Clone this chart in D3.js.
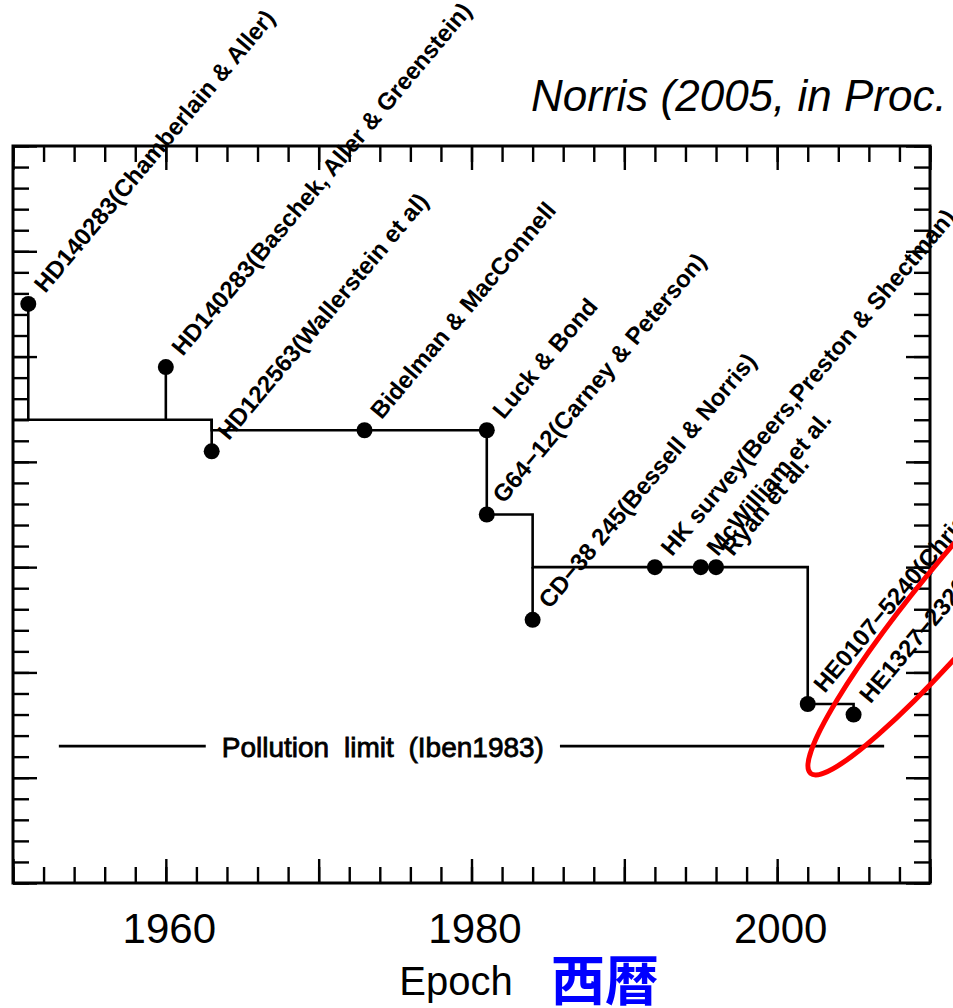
<!DOCTYPE html>
<html>
<head>
<meta charset="utf-8">
<script src="https://cdn.jsdelivr.net/npm/d3@7"></script>
<style>
  html, body { margin: 0; padding: 0; background: #fff; overflow: hidden; }
  svg { display: block; }
  text { font-family: "Liberation Sans", Arial, sans-serif; fill: #000; }
</style>
</head>
<body>
<svg id="chart" width="953" height="1008"></svg>
<script>
// Record-holding metal-poor stars: discovery epoch and [Fe/H]
const starLabels = [
  "HD140283(Chamberlain & Aller)",
  "HD140283(Baschek, Aller & Greenstein)",
  "HD122563(Wallerstein et al)",
  "Bidelman & MacConnell",
  "Luck & Bond",
  "G64\u221212(Carney & Peterson)",
  "CD\u221238 245(Bessell & Norris)",
  "HK survey(Beers,Preston & Shectman)",
  "McWilliam et al.",
  "Ryan et al.",
  "HE0107\u22125240(Christlieb et al)",
  "HE1327\u22122326(Frebel et al)"
];
const starYears = [1951, 1960, 1963, 1973, 1981, 1981, 1984, 1992, 1995, 1996, 2002, 2005];
const starFeH   = [-1.5, -2.1, -2.9, -2.7, -2.7, -3.5, -4.5, -4.0, -4.0, -4.0, -5.3, -5.4];

// Running lowest-metallicity envelope (step line)
const stepYears = [1950, 1963, 1963, 1981, 1981, 1984, 1984, 2002, 2002, 2005, 2005];
const stepFeH   = [-2.6, -2.6, -2.7, -2.7, -3.5, -3.5, -4.0, -4.0, -5.3, -5.3, -5.4];

// Vertical connectors between individual measurements and the envelope
const dropYears = [1951, 1960, 1963, 1984];
const dropFrom  = [-1.5, -2.1, -2.6, -4.0];
const dropTo    = [-2.6, -2.6, -2.9, -4.5];

// Pollution limit (Iben 1983)
const pollutionFeH = -5.7;
const pollutionYears = [1953, 2007];
const pollutionLabel = "Pollution limit (Iben1983)";
const pollutionLabelYear = 1974.2;

// Axis tick values
const xMinorTicks = d3.range(1950, 2010.1, 2);
const xMajorTicks = d3.range(1950, 2010.1, 10);
const xTickLabels = [1960, 1980, 2000];
const yMinorTicks = d3.range(0, -7.01, -0.2).map(v => +v.toFixed(1));
const yMajorTicks = d3.range(0, -7.01, -1);

const svg = d3.select("#chart");
const L = 13, R = 930, T = 146, B = 883;

const x = d3.scaleLinear().domain([1950, 2010]).range([L, R]);
const y = d3.scaleLinear().domain([0, -7]).range([T, B]);

// Title
svg.append("text")
  .attr("x", 531).attr("y", 111)
  .style("font-size", "44px").style("font-style", "italic")
  .text("Norris (2005, in Proc.");

// Axes: ticks point inward on all four sides
function styleAxis(g) {
  g.select(".domain").remove();
  g.selectAll(".tick line").attr("stroke", "#000").attr("stroke-width", 2.4);
}
const minorLen = 16, majorLen = 24;

svg.append("g").attr("transform", `translate(0,${B})`)
  .call(d3.axisBottom(x).tickValues(xMinorTicks).tickSize(-minorLen).tickFormat(""))
  .call(styleAxis);
const xb = svg.append("g").attr("transform", `translate(0,${B})`)
  .call(d3.axisBottom(x).tickValues(xMajorTicks).tickSize(-majorLen)
    .tickFormat(d => xTickLabels.includes(d) ? String(d) : ""))
  .call(styleAxis);
xb.selectAll(".tick text")
  .attr("x", 3).attr("y", 60).attr("dy", 0)
  .attr("fill", "#000")
  .style("font-size", "42px")
  .style("font-family", "'Liberation Sans', Arial, sans-serif");

svg.append("g").attr("transform", `translate(0,${T})`)
  .call(d3.axisTop(x).tickValues(xMinorTicks).tickSize(-minorLen).tickFormat(""))
  .call(styleAxis);
svg.append("g").attr("transform", `translate(0,${T})`)
  .call(d3.axisTop(x).tickValues(xMajorTicks).tickSize(-majorLen).tickFormat(""))
  .call(styleAxis);

svg.append("g").attr("transform", `translate(${L},0)`)
  .call(d3.axisLeft(y).tickValues(yMinorTicks).tickSize(-minorLen).tickFormat(""))
  .call(styleAxis);
svg.append("g").attr("transform", `translate(${L},0)`)
  .call(d3.axisLeft(y).tickValues(yMajorTicks).tickSize(-majorLen).tickFormat(""))
  .call(styleAxis);
svg.append("g").attr("transform", `translate(${R},0)`)
  .call(d3.axisRight(y).tickValues(yMinorTicks).tickSize(-minorLen).tickFormat(""))
  .call(styleAxis);
svg.append("g").attr("transform", `translate(${R},0)`)
  .call(d3.axisRight(y).tickValues(yMajorTicks).tickSize(-majorLen).tickFormat(""))
  .call(styleAxis);

// Frame
svg.append("rect")
  .attr("x", L).attr("y", T).attr("width", R - L).attr("height", B - T)
  .attr("fill", "none").attr("stroke", "#000").attr("stroke-width", 3);

// Axis title
svg.append("text")
  .attr("x", 456).attr("y", 995)
  .attr("text-anchor", "middle")
  .style("font-size", "40px")
  .text("Epoch");
svg.append("text")
  .attr("x", 551).attr("y", 1001)
  .style("font-family", "'Noto Sans CJK JP', sans-serif")
  .style("font-weight", "bold")
  .style("font-size", "54px")
  .style("fill", "#0000ff")
  .text("西暦");

// Step envelope
const stepData = stepYears.map((yr, i) => [yr, stepFeH[i]]);
svg.append("path")
  .datum(stepData)
  .attr("d", d3.line().x(d => x(d[0])).y(d => y(d[1])))
  .attr("fill", "none").attr("stroke", "#000").attr("stroke-width", 2.6);

// Connectors
svg.selectAll("line.drop")
  .data(dropYears.map((yr, i) => ({ yr, a: dropFrom[i], b: dropTo[i] })))
  .join("line").attr("class", "drop")
  .attr("x1", d => x(d.yr)).attr("x2", d => x(d.yr))
  .attr("y1", d => y(d.a)).attr("y2", d => y(d.b))
  .attr("stroke", "#000").attr("stroke-width", 2.6);

// Pollution limit line with its label in a gap
const pollY = y(pollutionFeH);
const pollText = svg.append("text")
  .attr("x", x(pollutionLabelYear)).attr("y", pollY + 11)
  .attr("text-anchor", "middle")
  .style("font-size", "28px")
  .style("word-spacing", "7px")
  .attr("stroke", "#000").attr("stroke-width", 0.8)
  .text(pollutionLabel);
const bb = pollText.node().getBBox();
const gap = 16;
svg.selectAll("line.poll")
  .data([[x(pollutionYears[0]), bb.x - gap], [bb.x + bb.width + gap, x(pollutionYears[1])]])
  .join("line").attr("class", "poll")
  .attr("x1", d => d[0]).attr("x2", d => d[1])
  .attr("y1", pollY).attr("y2", pollY)
  .attr("stroke", "#000").attr("stroke-width", 2.6);

// Stars
const stars = starYears.map((yr, i) => ({ yr, feh: starFeH[i], label: starLabels[i] }));
svg.selectAll("circle.star")
  .data(stars)
  .join("circle").attr("class", "star")
  .attr("cx", d => x(d.yr)).attr("cy", d => y(d.feh))
  .attr("r", 8).attr("fill", "#000");

svg.selectAll("text.star")
  .data(stars)
  .join("text").attr("class", "star")
  .attr("transform", d => `translate(${x(d.yr) + 17},${y(d.feh) - 10}) rotate(-50)`)
  .style("font-size", "24px")
  .style("font-weight", "bold")
  .text(d => d.label);

// Highlight around the two HE stars
const highlight = { yr: 2012.7, feh: -4.14, rx: 250, ry: 38, angle: -50 };
svg.append("ellipse")
  .attr("transform", `translate(${x(highlight.yr)},${y(highlight.feh)}) rotate(${highlight.angle})`)
  .attr("rx", highlight.rx).attr("ry", highlight.ry)
  .attr("fill", "none").attr("stroke", "#ff0000").attr("stroke-width", 5);
</script>
</body>
</html>
